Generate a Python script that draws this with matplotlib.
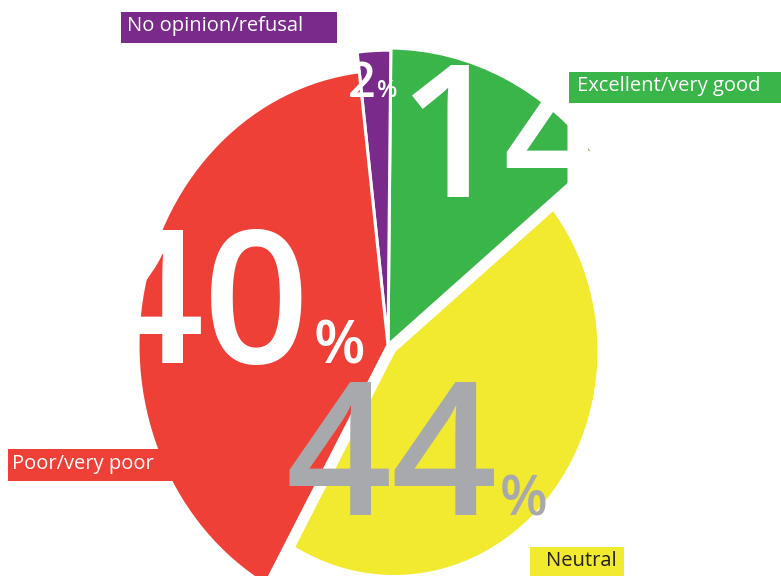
import numpy as np
import matplotlib.pyplot as plt
from matplotlib.patches import Wedge, Rectangle
from matplotlib.transforms import Affine2D

plt.rcParams['font.family'] = ['Open Sans', 'DejaVu Sans']

# survey shares, counter-clockwise from the green slice
categories = ['Excellent/very good', 'No opinion/refusal', 'Poor/very poor', 'Neutral']
shares = [14, 2, 40, 44]
colors = ['#3ab54a', '#7a2a8b', '#ef4037', '#f2ea2e']
number_colors = ['white', 'white', 'white', '#a8a9ac']
label_colors = ['white', 'white', 'white', '#231f20']

W, H = 781, 576
fig = plt.figure(figsize=(W / 100, H / 100), dpi=100)
ax = fig.add_axes([0, 0, 1, 1])
ax.set_xlim(0, W)
ax.set_ylim(0, H)
ax.axis('off')

def up(y):
    # positions below are measured from the top edge
    return H - y

# slice layout: vertex (x, y from top), radius
centers = [(388, 345), (388, 345), (388, 345), (394, 351)]
radii = [270, 268, 250, 205]
stretch = 1.1
start = 39.0

bounds = start + 360.0 * np.concatenate([[0], np.cumsum(shares)]) / sum(shares)

wedges = []
for i, v in enumerate(shares):
    cx, cy = centers[i]
    tr = Affine2D().scale(1, stretch).translate(cx, up(cy)) + ax.transData
    w = Wedge((0, 0), radii[i], bounds[i], bounds[i + 1], facecolor=colors[i],
              edgecolor='white', linewidth=2.2, transform=tr, zorder=1)
    ax.add_patch(w)
    wedges.append(w)

# big percentage numbers: (x, baseline, align, number size, percent size, gap)
num_pos = [(397, 197, 'left', 134, 43, 0),
           (348, 97, 'left', 35, 17, 1),
           (310, 363, 'right', 134, 43, 4),
           (498, 515, 'right', 134, 40, 2)]
fig.canvas.draw()
for i, v in enumerate(shares):
    x, yb, ha, fs, ps, gap = num_pos[i]
    t = ax.text(x, up(yb), str(v), fontsize=fs, color=number_colors[i],
                ha=ha, va='baseline', fontweight='semibold', zorder=2)
    t.set_clip_path(wedges[i])
    if ha == 'left':
        bb = t.get_window_extent(renderer=fig.canvas.get_renderer())
        px = bb.x1 + gap
    else:
        px = x + gap
    p = ax.text(px, up(yb), '%', fontsize=ps, color=number_colors[i],
                ha='left', va='baseline', fontweight='semibold', zorder=2)
    p.set_clip_path(wedges[i])

# category tags: box (x0, y0, x1, y1 from top), text x
tags = [(569, 72, 781, 103, 577), (121, 12, 337, 43, 127),
        (8, 449, 173, 481, 12), (530, 547, 624, 576, 546)]
for i, name in enumerate(categories):
    x0, y0, x1, y1, tx = tags[i]
    ax.add_patch(Rectangle((x0, up(y1)), x1 - x0, y1 - y0, facecolor=colors[i],
                           edgecolor='none', zorder=4))
    ax.text(tx, up((y0 + y1) / 2) + 1, name, fontsize=14.5, color=label_colors[i],
            ha='left', va='center', zorder=5)

fig.savefig('out.png', dpi=100)
